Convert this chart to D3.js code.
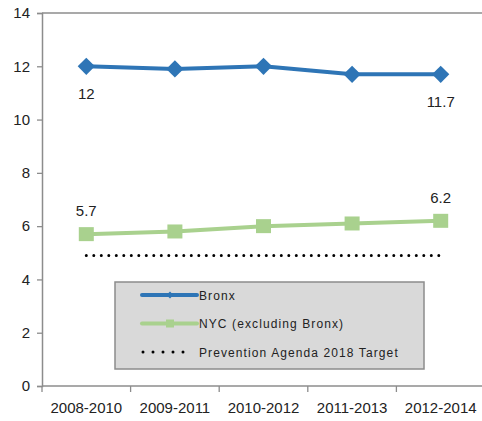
<!DOCTYPE html>
<html>
<head>
<meta charset="utf-8">
<script src="https://cdn.jsdelivr.net/npm/d3@7"></script>
<style>
  html, body { margin: 0; padding: 0; background: #fff; }
  svg { display: block; font-family: "Liberation Sans", Arial, sans-serif; }
</style>
</head>
<body>
<svg id="chart" width="482" height="421"></svg>
<script>
// Three-year periods shown along the x axis
const periods = ["2008-2010", "2009-2011", "2010-2012", "2011-2013", "2012-2014"];
// Rates per period
const bronx = [12, 11.9, 12, 11.7, 11.7];
const nycExclBronx = [5.7, 5.8, 6.0, 6.1, 6.2];
// Prevention Agenda 2018 target rate
const target = 4.9;
// Y axis tick values
const yTicks = [0, 2, 4, 6, 8, 10, 12, 14];
// Legend entries
const legendLabels = ["Bronx", "NYC (excluding Bronx)", "Prevention Agenda 2018 Target"];

const blue = "#2E75B6";
const green = "#A9D18E";
const axisColor = "#8c8c8c";
const textColor = "#222";

const svg = d3.select("#chart");

const x = d3.scaleBand().domain(periods).range([42, 485]).padding(0);
const y = d3.scaleLinear().domain([0, 14]).range([386, 13]);
const cx = d => x(d) + x.bandwidth() / 2;

// Top border line of the plot area
svg.append("line")
  .attr("x1", x.range()[0]).attr("x2", 482)
  .attr("y1", y(14)).attr("y2", y(14))
  .attr("stroke", axisColor).attr("stroke-width", 1.3);

// Y axis
const yAxis = svg.append("g")
  .attr("transform", `translate(${x.range()[0]},0)`)
  .call(d3.axisLeft(y).tickValues(yTicks).tickSize(5).tickPadding(7).tickFormat(d3.format("d")));
yAxis.select(".domain").attr("stroke", axisColor).attr("stroke-width", 1.5);
yAxis.selectAll(".tick line").attr("stroke", axisColor).attr("stroke-width", 1.3);
yAxis.selectAll(".tick text").attr("fill", textColor).style("font-size", "15px")
  .style("font-family", "'Liberation Sans', Arial, sans-serif");

// X axis: labels at band centers, tick marks at band boundaries
const xAxis = svg.append("g")
  .attr("transform", `translate(0,${y(0)})`)
  .call(d3.axisBottom(x).tickSize(0).tickPadding(16));
xAxis.select(".domain").remove();
xAxis.selectAll(".tick text").attr("fill", textColor).style("font-size", "15px")
  .style("font-family", "'Liberation Sans', Arial, sans-serif");
svg.append("line")
  .attr("x1", x.range()[0]).attr("x2", 482)
  .attr("y1", y(0)).attr("y2", y(0))
  .attr("stroke", axisColor).attr("stroke-width", 1.5);
svg.append("g").selectAll("line")
  .data(periods)
  .join("line")
  .attr("x1", d => x(d)).attr("x2", d => x(d))
  .attr("y1", y(0)).attr("y2", y(0) + 6)
  .attr("stroke", axisColor).attr("stroke-width", 1.3);

// Target dotted line
svg.append("line")
  .attr("x1", cx(periods[0])).attr("x2", cx(periods[periods.length - 1]))
  .attr("y1", y(target)).attr("y2", y(target))
  .attr("stroke", "#000").attr("stroke-width", 3)
  .attr("stroke-linecap", "round").attr("stroke-dasharray", "0 7.5");

const line = d3.line().x((d, i) => cx(periods[i])).y(d => y(d));

// NYC (excluding Bronx) series
svg.append("path").datum(nycExclBronx)
  .attr("d", line).attr("fill", "none")
  .attr("stroke", green).attr("stroke-width", 4);
svg.append("g").selectAll("rect")
  .data(nycExclBronx)
  .join("rect")
  .attr("x", (d, i) => cx(periods[i]) - 7.5)
  .attr("y", d => y(d) - 7)
  .attr("width", 15).attr("height", 14)
  .attr("fill", green);

// Bronx series
svg.append("path").datum(bronx)
  .attr("d", line).attr("fill", "none")
  .attr("stroke", blue).attr("stroke-width", 4);
const diamond = d3.symbol().type(d3.symbolDiamond2).size(190);
svg.append("g").selectAll("path")
  .data(bronx)
  .join("path")
  .attr("d", diamond)
  .attr("transform", (d, i) => `translate(${cx(periods[i])},${y(d)})`)
  .attr("fill", blue);

// Value labels at first and last points
const fmt = d => (Number.isInteger(d) ? d3.format("d")(d) : d3.format(".1f")(d));
const ends = [0, periods.length - 1];
svg.append("g").selectAll("text")
  .data(ends)
  .join("text")
  .attr("x", i => cx(periods[i]))
  .attr("y", i => y(bronx[i]) + 32.5)
  .attr("text-anchor", "middle")
  .attr("fill", textColor).style("font-size", "15px")
  .text(i => fmt(bronx[i]));
svg.append("g").selectAll("text")
  .data(ends)
  .join("text")
  .attr("x", i => cx(periods[i]))
  .attr("y", i => y(nycExclBronx[i]) - 18)
  .attr("text-anchor", "middle")
  .attr("fill", textColor).style("font-size", "15px")
  .text(i => fmt(nycExclBronx[i]));

// Legend
const legend = svg.append("g").attr("transform", "translate(115,282)");
legend.append("rect")
  .attr("width", 309).attr("height", 87)
  .attr("fill", "#d9d9d9").attr("stroke", axisColor).attr("stroke-width", 1.5);
const rows = legend.selectAll("g.row")
  .data(legendLabels)
  .join("g").attr("class", "row")
  .attr("transform", (d, i) => `translate(0,${13 + i * 28.5})`);
rows.each(function (d, i) {
  const g = d3.select(this);
  if (i === 0) {
    g.append("line").attr("x1", 27).attr("x2", 82).attr("y1", 0).attr("y2", 0)
      .attr("stroke", blue).attr("stroke-width", 4).attr("stroke-linecap", "round");
    g.append("path").attr("d", d3.symbol().type(d3.symbolDiamond2).size(30)())
      .attr("transform", "translate(55,0)").attr("fill", blue);
  } else if (i === 1) {
    g.append("line").attr("x1", 27).attr("x2", 82).attr("y1", 0).attr("y2", 0)
      .attr("stroke", green).attr("stroke-width", 4).attr("stroke-linecap", "round");
    g.append("rect").attr("x", 51).attr("y", -4).attr("width", 8).attr("height", 8)
      .attr("fill", green);
  } else {
    g.append("line").attr("x1", 28).attr("x2", 78).attr("y1", 0).attr("y2", 0)
      .attr("stroke", "#000").attr("stroke-width", 3)
      .attr("stroke-linecap", "round").attr("stroke-dasharray", "0 10");
  }
  g.append("text")
    .attr("x", 84).attr("y", 4.5)
    .attr("fill", textColor)
    .style("font-size", "12px").style("letter-spacing", "1.1px")
    .text(d);
});
</script>
</body>
</html>
